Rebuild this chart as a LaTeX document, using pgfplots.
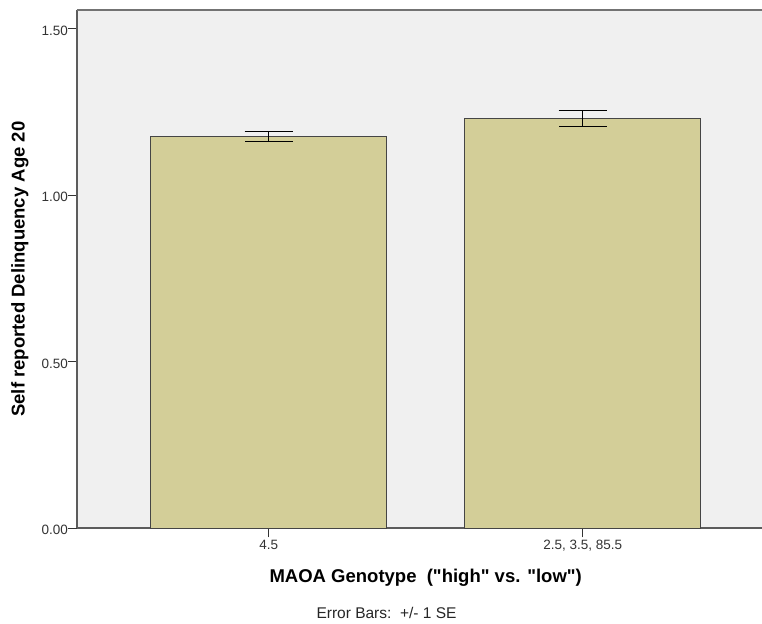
\documentclass[border=0pt]{standalone}
\usepackage{fontspec}
\setmainfont{Liberation Sans}
\usepackage{pgfplots}
\pgfplotsset{compat=1.18}

\definecolor{panelbg}{HTML}{F0F0F0}
\definecolor{barfill}{HTML}{D3CE98}
\definecolor{baredge}{HTML}{454545}
\definecolor{spine}{HTML}{5C5C5C}
\definecolor{ticktext}{HTML}{333333}

\begin{document}
\begin{tikzpicture}[x=1pt,y=1pt]
\path[use as bounding box] (0,0) rectangle (762,623);
\begin{axis}[
  at={(77pt,94.7pt)}, anchor=south west,
  scale only axis,
  width=685pt, height=518.3pt,
  xmin=-0.6105, xmax=1.571,
  ymin=0, ymax=1.556,
  axis lines*=left,
  axis line style={spine, line width=1.8pt},
  axis background/.style={fill=panelbg},
  tick align=outside,
  major tick length=9pt,
  tick style={ticktext, line width=1.3pt},
  xtick={0,1},
  xticklabels={4.5, {2.5, 3.5, 85.5}},
  ytick={0,0.5,1,1.5},
  /pgf/number format/assume math mode=true,
  /pgf/number format/fixed,
  /pgf/number format/fixed zerofill,
  /pgf/number format/precision=2,
  ticklabel style={font=\fontsize{13.5}{16}\selectfont, text=ticktext},
  yticklabel style={inner xsep=0pt, yshift=-2pt},
  xticklabel style={inner ysep=3pt},
  xlabel={MAOA Genotype\ \ (\textquotedbl high\textquotedbl\ vs. \textquotedbl low\textquotedbl)},
  ylabel={Self reported Delinquency Age 20},
  xlabel style={font=\fontsize{18.5}{22}\selectfont\bfseries,
    at={(axis cs:0.5,0)}, anchor=base, yshift=-54pt},
  ylabel style={font=\fontsize{18.5}{22}\selectfont\bfseries,
    at={(axis description cs:-0.0832,0.5)}, anchor=center},
  clip=false,
]
\addplot[
  ybar, bar width=0.7516,
  fill=barfill, draw=baredge, line width=1.4pt,
  error bars/.cd, y dir=both, y explicit,
  error bar style={black, line width=1pt},
  error mark options={rotate=90, mark size=24pt, line width=1.3pt, black},
] coordinates {
  (0,1.176) +- (0,0.015)
  (1,1.230) +- (0,0.024)
};
\draw[color=gray!90!black, line width=2pt] (rel axis cs:0,1) -- (rel axis cs:1,1);
\end{axis}
\node[anchor=base, font=\fontsize{15.5}{18}\selectfont, text=black!85]
  at (386.5,4.7) {Error Bars:\ \ +/-\ 1 SE};
\end{tikzpicture}
\end{document}
